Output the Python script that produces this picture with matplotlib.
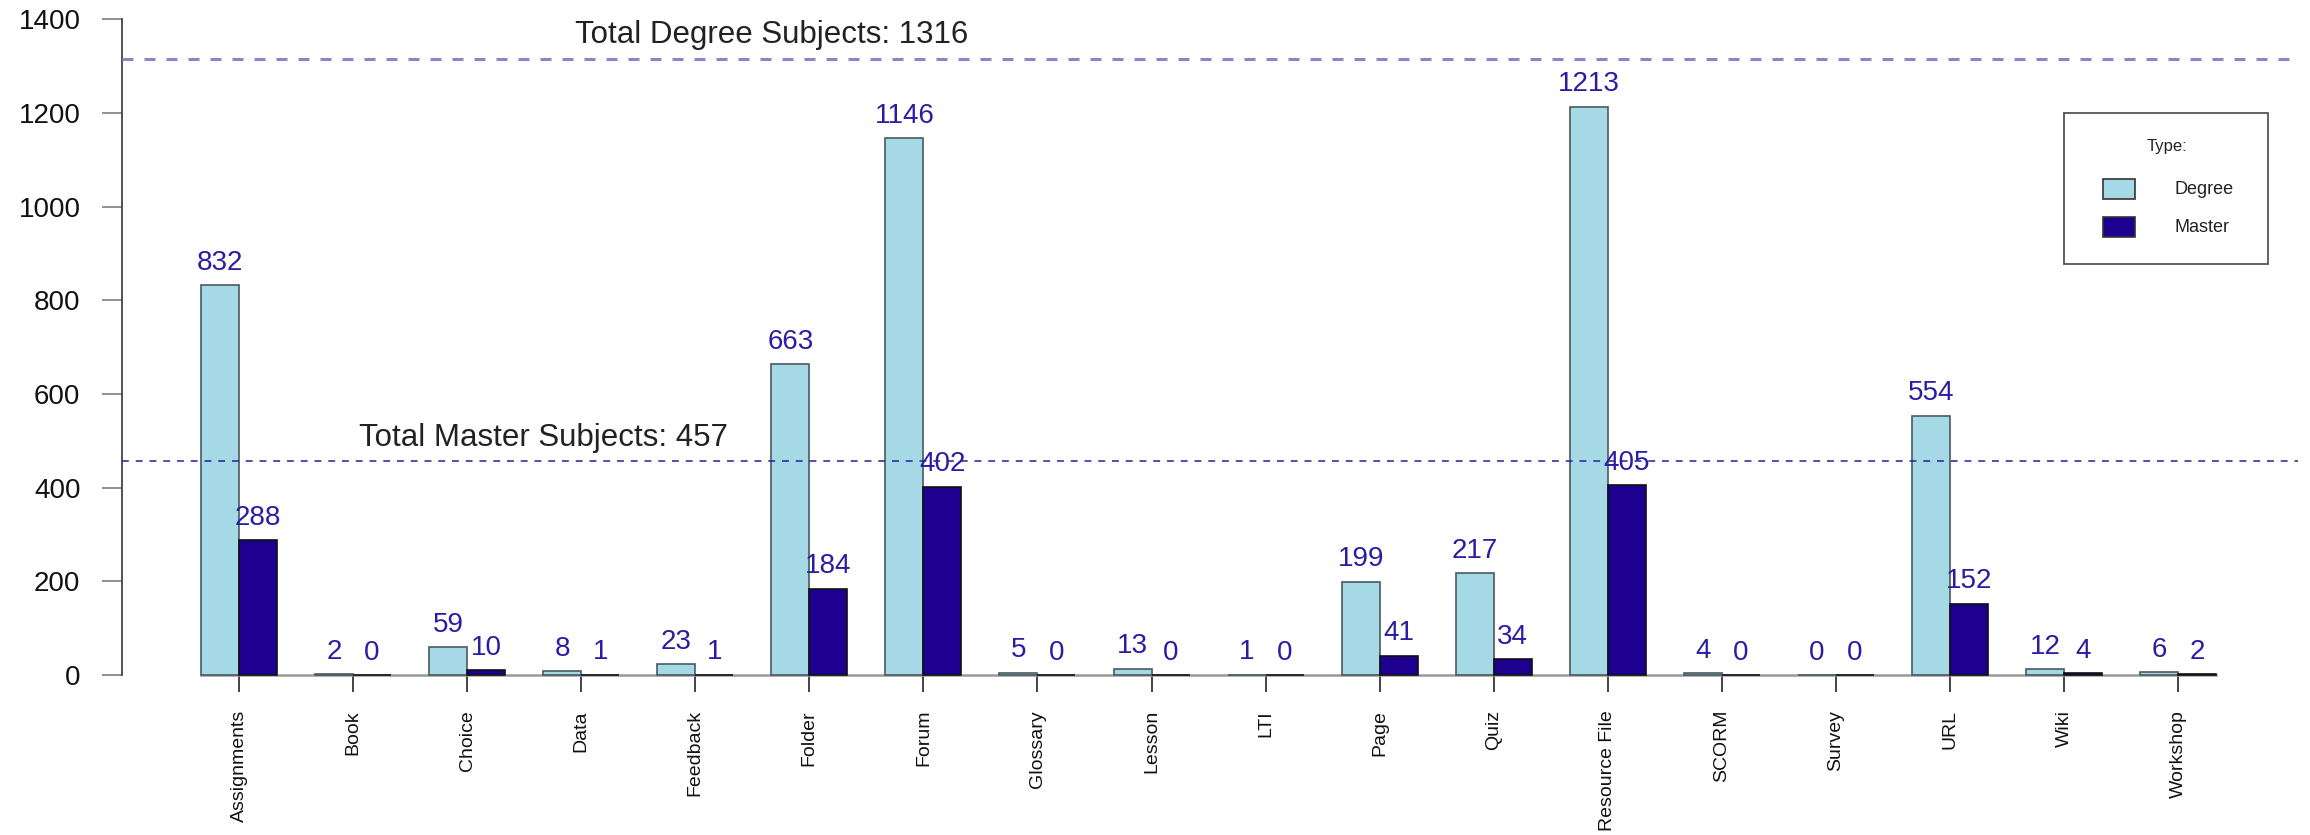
import numpy as np
import matplotlib
matplotlib.use("Agg")
import matplotlib.pyplot as plt
from matplotlib.patches import Rectangle

# ── Data ─────────────────────────────────────────────────────────────────────
categories = ["Assignments", "Book", "Choice", "Data", "Feedback", "Folder",
              "Forum", "Glossary", "Lesson", "LTI", "Page", "Quiz",
              "Resource File", "SCORM", "Survey", "URL", "Wiki", "Workshop"]
degree = [832, 2, 59, 8, 23, 663, 1146, 5, 13, 1, 199, 217, 1213, 4, 0, 554, 12, 6]
master = [288, 0, 10, 1, 1, 184, 402, 0, 0, 0, 41, 34, 405, 0, 0, 152, 4, 2]
total_degree = 1316
total_master = 457
yticks = [0, 200, 400, 600, 800, 1000, 1200, 1400]

# ── Style ────────────────────────────────────────────────────────────────────
C_DEG = "#a6d9e6"
C_MAS = "#1e0090"
C_LBL = "#2b1da3"
plt.rcParams["font.family"] = ["Liberation Sans", "DejaVu Sans"]

W, H = 2310, 835
fig = plt.figure(figsize=(W / 100, H / 100), dpi=100)
ax = fig.add_axes([0, 0, 1, 1])

# pixel mapping: x=0 -> 163 px, 1 unit = 38.02 px ; y=0 -> 675 px, 1 unit = 0.46836 px
ux, x0 = 38.02, 163
uy, y0 = 0.46836, 675
ax.set_xlim(-x0 / ux, (W - x0) / ux)
ax.set_ylim(-(H - y0) / uy, y0 / uy)

n = len(categories)
xd = np.arange(n) * 3 + 1.5
xm = xd + 1
ax.bar(xd, degree, width=1, color=C_DEG, edgecolor="#4a5a60", linewidth=1.2, zorder=3)
ax.bar(xm, master, width=1, color=C_MAS, edgecolor="#111111", linewidth=1.2, zorder=3)

for x, v in zip(xd, degree):
    ax.text(x, v + 33, str(v), ha="center", va="baseline", fontsize=20, color=C_LBL, zorder=5)
for x, v in zip(xm, master):
    ax.text(x, v + 33, str(v), ha="center", va="baseline", fontsize=20, color=C_LBL, zorder=5)

# reference lines
xr = (-1.08, 56.15)
ax.plot(xr, [total_degree] * 2, color="#8c84cc", lw=2.2, dashes=(3.6, 3.6), zorder=4)
ax.plot(xr, [total_master] * 2, color="#2a1d9e", lw=1.1, dashes=(4.5, 4.5), zorder=4)
ax.text(16, total_degree + 34, f"Total Degree Subjects: {total_degree}",
        ha="center", va="baseline", fontsize=22.5, color="#222222")
ax.text(10, total_master + 33, f"Total Master Subjects: {total_master}",
        ha="center", va="baseline", fontsize=22.5, color="#222222")

# axes
for s in ["top", "right"]:
    ax.spines[s].set_visible(False)
ax.spines["left"].set_position(("data", -1.08))
ax.spines["left"].set_bounds(0, 1400)
ax.spines["left"].set_color("#444444")
ax.spines["left"].set_linewidth(1.3)
ax.spines["bottom"].set_position(("data", 0))
ax.spines["bottom"].set_bounds(1, 3 * n)
ax.spines["bottom"].set_color("#999999")
ax.spines["bottom"].set_linewidth(1.8)

ax.set_yticks(yticks)
ax.set_yticklabels([str(t) for t in yticks])
ax.tick_params(axis="y", direction="out", length=14.4, width=1.3, color="#888888",
               pad=15.5, labelsize=20, labelcolor="#111111")
ax.set_xticks(xd + 0.5)
ax.set_xticklabels(categories, rotation=90, va="top", ha="center")
ax.tick_params(axis="x", direction="out", length=12.2, width=1.1, color="#111111",
               pad=13, labelsize=14, labelcolor="#111111")

# legend (drawn manually in pixel positions)
def fx(px):
    return px / W

def fy(py):
    return 1 - py / H

fig.patches.append(Rectangle((fx(2064), fy(264)), fx(2268) - fx(2064), fy(113) - fy(264),
                             transform=fig.transFigure, fill=False, edgecolor="#555555", lw=1.3))
fig.text(fx(2167), fy(147), "Type:", ha="center", va="center", fontsize=12, color="#222222")
for py, col, lab in [(189, C_DEG, "Degree"), (227, C_MAS, "Master")]:
    fig.patches.append(Rectangle((fx(2103), fy(py + 9.5)), fx(2135) - fx(2103), 19 / H,
                                 transform=fig.transFigure, facecolor=col,
                                 edgecolor="#333333", lw=1.2))
    fig.text(fx(2174), fy(py), lab, ha="left", va="center", fontsize=13, color="#222222")

fig.savefig("out.png", dpi=100, facecolor="white")
